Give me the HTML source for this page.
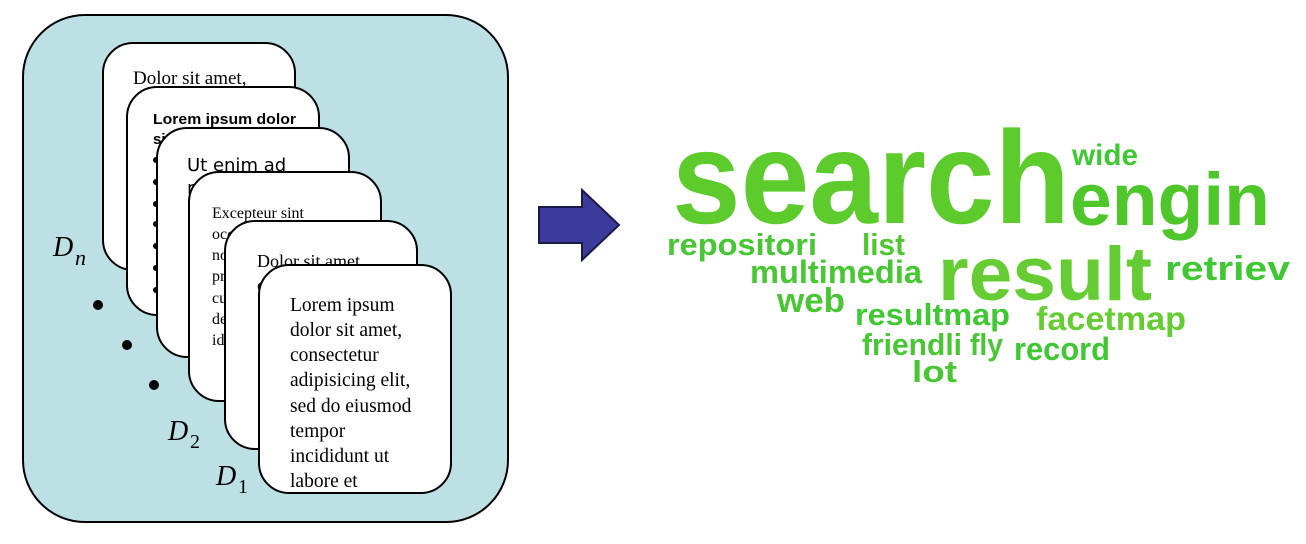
<!DOCTYPE html>
<html><head><meta charset="utf-8"><style>
html,body{margin:0;padding:0;background:#fff;}
svg{display:block;}
.serif{font-family:"Liberation Serif",serif;}
.w{font-family:"Liberation Sans",sans-serif;font-weight:bold;}
</style></head><body>
<svg width="1306" height="544" viewBox="0 0 1306 544" xmlns="http://www.w3.org/2000/svg">
<rect x="23" y="15" width="485" height="507" rx="62" fill="#bde0e4" stroke="#000" stroke-width="2"/>
<rect x="103" y="43" width="192" height="227" rx="30" fill="#fff" stroke="#000" stroke-width="2"/>
<text x="133" y="84" class="serif" font-size="19">Dolor sit amet,</text>
<rect x="127" y="87" width="192" height="228" rx="30" fill="#fff" stroke="#000" stroke-width="2"/>
<text x="153" y="124" font-family="Liberation Sans,sans-serif" font-weight="bold" font-size="15" textLength="143" lengthAdjust="spacingAndGlyphs">Lorem ipsum dolor</text>
<text x="153" y="144" font-family="Liberation Sans,sans-serif" font-weight="bold" font-size="15">sit</text>
<g fill="#000"><circle cx="156" cy="160" r="3"/><circle cx="156" cy="182" r="3"/><circle cx="156" cy="204" r="3"/><circle cx="156" cy="224" r="3"/><circle cx="156" cy="246" r="3"/><circle cx="156" cy="268" r="3"/><circle cx="156" cy="290" r="3"/></g>
<rect x="157" y="128" width="192" height="229" rx="30" fill="#fff" stroke="#000" stroke-width="2"/>
<text x="187" y="171" font-family="DejaVu Sans,sans-serif" font-size="18">Ut enim ad</text>
<text x="187" y="194" font-family="DejaVu Sans,sans-serif" font-size="18">minim</text>
<rect x="189" y="172" width="192" height="229" rx="30" fill="#fff" stroke="#000" stroke-width="2"/>
<g class="serif" font-size="16">
<text x="212" y="218">Excepteur sint</text>
<text x="212" y="239">occaecat</text>
<text x="212" y="260">non</text>
<text x="212" y="281">proident</text>
<text x="212" y="303">culpa</text>
<text x="212" y="324">deserunt</text>
<text x="212" y="345">id est</text>
</g>
<rect x="225" y="221" width="192" height="228" rx="30" fill="#fff" stroke="#000" stroke-width="2"/>
<text x="257" y="267" class="serif" font-size="18">Dolor sit amet,</text>
<text x="257" y="291" class="serif" font-size="18">consectetur</text>
<rect x="259" y="265" width="192" height="228" rx="30" fill="#fff" stroke="#000" stroke-width="2"/>
<g class="serif" font-size="19.5">
<text x="290" y="311">Lorem ipsum</text>
<text x="290" y="336">dolor sit amet,</text>
<text x="290" y="361">consectetur</text>
<text x="290" y="386">adipisicing elit,</text>
<text x="290" y="412">sed do eiusmod</text>
<text x="290" y="437">tempor</text>
<text x="290" y="462">incididunt ut</text>
<text x="290" y="487">labore et</text>
</g>
<g fill="#000"><circle cx="98" cy="305" r="5"/><circle cx="127" cy="345" r="5"/><circle cx="154" cy="385" r="5"/></g>
<g font-family="Liberation Serif,serif" font-style="italic" font-size="28">
<text x="53" y="256">D</text><text x="75" y="265" font-size="22">n</text>
<text x="168" y="440">D</text><text x="190" y="448" font-size="20" font-style="normal">2</text>
<text x="216" y="485">D</text><text x="238" y="493" font-size="20" font-style="normal">1</text>
</g>
<polygon points="539,207 582,207 582,190 619,225 582,260 582,243 539,243" fill="#3b3b9c" stroke="#1a1a4a" stroke-width="2"/>
<g class="w">
<text x="672" y="223" font-size="132" fill="#5ccb2b" textLength="398" lengthAdjust="spacingAndGlyphs">search</text>
<text x="1070" y="225" font-size="74" fill="#4fc72b" textLength="200" lengthAdjust="spacingAndGlyphs">engin</text>
<text x="1072" y="165" font-size="30" fill="#3fc833" textLength="66" lengthAdjust="spacingAndGlyphs">wide</text>
<text x="667" y="255" font-size="31" fill="#49c634" textLength="150" lengthAdjust="spacingAndGlyphs">repositori</text>
<text x="862" y="255" font-size="31" fill="#4ec82e" textLength="43" lengthAdjust="spacingAndGlyphs">list</text>
<text x="750" y="283" font-size="32" fill="#45c831" textLength="172" lengthAdjust="spacingAndGlyphs">multimedia</text>
<text x="938" y="300" font-size="76" fill="#66cc33" textLength="214" lengthAdjust="spacingAndGlyphs">result</text>
<text x="1165" y="280" font-size="34" fill="#3fc833" textLength="125" lengthAdjust="spacingAndGlyphs">retriev</text>
<text x="777" y="312" font-size="34" fill="#49c634" textLength="68" lengthAdjust="spacingAndGlyphs">web</text>
<text x="855" y="325" font-size="31" fill="#3fc833" textLength="155" lengthAdjust="spacingAndGlyphs">resultmap</text>
<text x="1036" y="330" font-size="33" fill="#66cc33" textLength="150" lengthAdjust="spacingAndGlyphs">facetmap</text>
<text x="862" y="355" font-size="31" fill="#49c634" textLength="100" lengthAdjust="spacingAndGlyphs">friendli</text>
<text x="970" y="355" font-size="31" fill="#49c634" textLength="33" lengthAdjust="spacingAndGlyphs">fly</text>
<text x="1014" y="360" font-size="32" fill="#3fc833" textLength="96" lengthAdjust="spacingAndGlyphs">record</text>
<text x="912" y="382" font-size="31" fill="#49c634" textLength="45" lengthAdjust="spacingAndGlyphs">lot</text>
</g>
</svg>
</body></html>
